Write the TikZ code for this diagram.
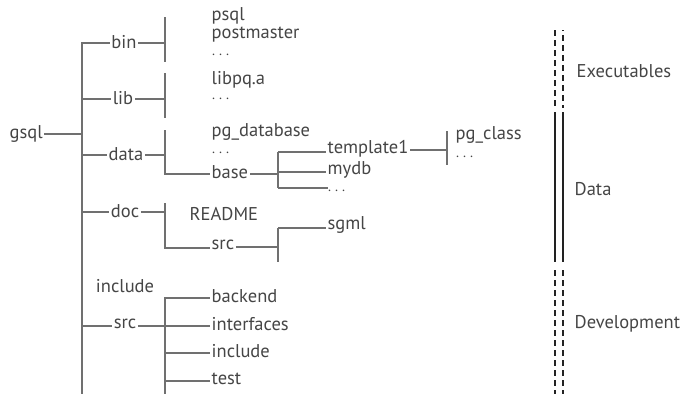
\documentclass[tikz,border=0pt]{standalone}
\usepackage{fontspec}
\setmainfont{PT Sans}
\definecolor{txt}{HTML}{454545}
\definecolor{lin}{HTML}{707070}
\definecolor{bar}{HTML}{222222}
\begin{document}
\begin{tikzpicture}[x=1pt,y=-1pt,
  lbl/.style={inner sep=1.5pt, text=txt, font=\fontsize{18.5}{20}\selectfont},
  lw/.style={lbl, anchor=west},
  dts/.style={inner sep=0pt, anchor=west, text=txt, font=\fontsize{14}{16}\selectfont},
  ln/.style={draw=lin, line width=1.3pt},
  barline/.style={draw=bar, line width=1.3pt},
  dsh/.style={barline, dash pattern=on 6pt off 4pt}]
\useasboundingbox (0,0) rectangle (680,394);
% first level
\node[lw] (gsql) at (8,134) {gsql};
\node[lbl] (bin) at (124,42) {bin};
\node[lbl] (lib) at (123,98) {lib};
\node[lbl] (data) at (126,154) {data};
\node[lbl] (doc) at (125,211) {doc};
\node[lbl] (include) at (125,286) {include};
\node[lbl] (src) at (125,324) {src};
% second level
\node[lw] (psql) at (210,16) {psql};
\node[lw] (postmaster) at (210,35) {postmaster};
\node[dts] (bindots) at (212,55) {.\hspace{4pt}.\hspace{4pt}.};
\node[lw] (libpq) at (210,80) {libpq.a};
\node[dts] (libdots) at (212,99) {.\hspace{4pt}.\hspace{4pt}.};
\node[lw] (pgdb) at (210,132) {pg\_database};
\node[dts] (datadots) at (212,153) {.\hspace{4pt}.\hspace{4pt}.};
\node[lw] (base) at (210,172) {base};
\node[lw] (template) at (326,149) {template1};
\node[lw] (mydb) at (326,170) {mydb};
\node[dts] (basedots) at (328,191) {.\hspace{4pt}.\hspace{4pt}.};
\node[lw] (pgclass) at (454,135) {pg\_class};
\node[dts] (classdots) at (456,157) {.\hspace{4pt}.\hspace{4pt}.};
\node[lw] (readme) at (188,214) {README};
\node[lw] (docsrc) at (210,245) {src};
\node[lw] (sgml) at (326,225) {sgml};
\node[lw] (backend) at (210,296) {backend};
\node[lw] (interfaces) at (210,324) {interfaces};
\node[lw] (incl) at (210,351) {include};
\node[lw] (test) at (210,379) {test};
% right labels
\node[lw] (exe) at (575,71) {Executables};
\node[lw] (dat) at (573,189) {Data};
\node[lw] (dev) at (573,324) {Development};
% junction coordinates
\coordinate (trT) at (82,42);
\coordinate (trB) at (82,394);
% trunk
\draw[ln] (trT) -- (trB);
\draw[ln] (gsql.east) -- (82,134);
% bin
\draw[ln] (82,43) -- (bin.west |- 0,43);
\draw[ln] (bin.east |- 0,43) -- (165,43);
\draw[ln] (165,17) -- (165,62);
% lib
\draw[ln] (82,99) -- (lib.west |- 0,99);
\draw[ln] (lib.east |- 0,99) -- (165,99);
\draw[ln] (165,73) -- (165,118);
% data
\draw[ln] (82,155) -- (data.west |- 0,155);
\draw[ln] (data.east |- 0,155) -- (165,155);
\draw[ln] (165,130) -- (165,174) -- (base.west |- 0,174);
\draw[ln] (base.east |- 0,174) -- (278,174);
\draw[ln] (278,152) -- (278,188);
\draw[ln] (278,152) -- (template.west |- 0,152);
\draw[ln] (278,172) -- (mydb.west |- 0,172);
\draw[ln] (278,188) -- (basedots.west |- 0,188);
\draw[ln] (template.east |- 0,150) -- (447,150);
\draw[ln] (447,131) -- (447,165);
% doc
\draw[ln] (82,212) -- (doc.west |- 0,212);
\draw[ln] (doc.east |- 0,212) -- (165,212);
\draw[ln] (165,203) -- (165,248) -- (docsrc.west |- 0,248);
\draw[ln] (docsrc.east |- 0,247) -- (278,247);
\draw[ln] (278,228) -- (278,262);
\draw[ln] (278,228) -- (sgml.west |- 0,228);
% src
\draw[ln] (82,326) -- (src.west |- 0,326);
\draw[ln] (src.east |- 0,326) -- (interfaces.west |- 0,326);
\draw[ln] (165,297) -- (165,394);
\draw[ln] (165,298) -- (backend.west |- 0,298);
\draw[ln] (165,353) -- (incl.west |- 0,353);
\draw[ln] (165,381) -- (test.west |- 0,381);
% right bars
\draw[dsh] (555,30) -- (555,108);
\draw[dsh, dash phase=5pt] (563,30) -- (563,108);
\draw[barline] (555,112) -- (555,262);
\draw[barline] (563,112) -- (563,262);
\draw[dsh] (555,270) -- (555,394);
\draw[dsh] (563,270) -- (563,394);
\end{tikzpicture}
\end{document}
